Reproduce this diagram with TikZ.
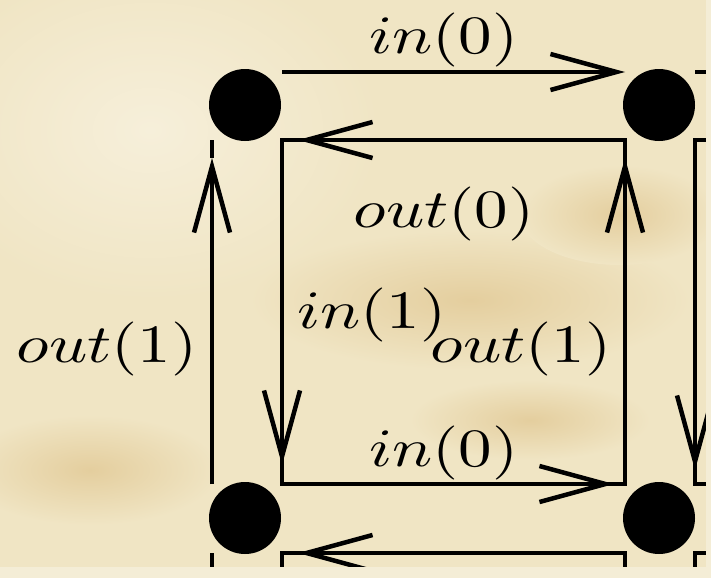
\documentclass[tikz,border=0pt]{standalone}
\usetikzlibrary{arrows.meta}
\definecolor{parch}{RGB}{240,229,196}
\definecolor{parchdark}{RGB}{228,206,158}
\definecolor{parchlight}{RGB}{246,239,218}
\definecolor{stripcol}{RGB}{244,237,214}
\begin{document}
\begin{tikzpicture}[x=1pt,y=-1pt,
  edge/.style={line width=4.5pt,line cap=butt,line join=miter},
  arr/.style={edge,-{Straight Barb[length=66pt,width=36pt,line width=4.5pt]}},
  dot/.style={circle,fill=black,minimum size=72pt,inner sep=0pt},
  lab/.style={anchor=base,inner sep=0pt}]
\useasboundingbox (0,0) rectangle (711,578);
% background
\fill[parch] (0,0) rectangle (711,578);
\shade[inner color=parchlight,outer color=parch] (150,130) ellipse [x radius=230,y radius=170];
\shade[inner color=parchdark,outer color=parch] (470,300) ellipse [x radius=220,y radius=70];
\shade[inner color=parchdark,outer color=parch] (620,215) ellipse [x radius=100,y radius=50];
\shade[inner color=parchdark,outer color=parch] (90,470) ellipse [x radius=130,y radius=55];
\shade[inner color=parchdark,outer color=parch] (530,420) ellipse [x radius=120,y radius=40];
% dots
\node[dot] (tl) at (245,105) {};
\node[dot] (tr) at (659,105) {};
\node[dot] (bl) at (245,518) {};
\node[dot] (br) at (659,518) {};
% corner coordinates
\coordinate (a) at (282,140);
\coordinate (b) at (625,140);
\coordinate (c) at (625,484);
\coordinate (d) at (282,484);
\coordinate (tA) at (282,72);
\coordinate (tB) at (625,72);
\coordinate (tC) at (695,72);
\coordinate (tD) at (706,72);
\coordinate (lA) at (212,140);
\coordinate (lB) at (212,484);
\coordinate (lC) at (212,553);
\coordinate (lD) at (212,567);
\coordinate (rA) at (695,140);
\coordinate (rB) at (695,484);
\coordinate (rA2) at (706,140);
\coordinate (rB2) at (706,484);
\coordinate (e) at (282,553);
\coordinate (f) at (625,553);
\coordinate (e2) at (282,567);
\coordinate (f2) at (625,567);
\coordinate (g) at (695,553);
\coordinate (g2) at (695,567);
\coordinate (g3) at (706,553);
% arrow tip points
\coordinate (p1) at (298,140);
\coordinate (p2) at (282,465);
\coordinate (p3) at (614,484);
\coordinate (p4) at (625,158);
\coordinate (p5) at (212,158);
\coordinate (p6) at (695,470);
\coordinate (p7) at (298,553);
% top line
\draw[arr] (tA) -- (tB);
\draw[edge] (tC) -- (tD);
% central square
\draw[arr] (b) -- (p1);
\draw[edge] (p1) -- (a) -- (p2);
\draw[arr] (a) -- (p2);
\draw[edge] (p2) -- (d) -- (p3);
\draw[arr] (d) -- (p3);
\draw[edge] (p3) -- (c) -- (p4);
\draw[arr] (c) -- (p4);
\draw[edge] (p4) -- (b) -- (p1);
% left line
\draw[arr] (lB) -- (p5);
\draw[edge] (p5) -- (lA);
\draw[edge] (lC) -- (lD);
% right line
\draw[edge] (rA2) -- (rA) -- (p6);
\draw[arr] (rA) -- (p6);
\draw[edge] (p6) -- (rB) -- (rB2);
% bottom line
\draw[arr] (f) -- (p7);
\draw[edge] (f2) -- (f) -- (p7);
\draw[edge] (p7) -- (e) -- (e2);
\draw[edge] (g2) -- (g) -- (g3);
% labels
\node[lab] (l1) at (444,53) {\scalebox{6.7}[5.4]{$in(0)$}};
\node[lab] (l2) at (444,227) {\scalebox{6.7}[5.4]{$out(0)$}};
\node[lab] (l3) at (372,328) {\scalebox{6.7}[5.4]{$in(1)$}};
\node[lab] (l4) at (521,362) {\scalebox{6.7}[5.4]{$out(1)$}};
\node[lab] (l5) at (107,362) {\scalebox{6.7}[5.4]{$out(1)$}};
\node[lab] (l6) at (444,466) {\scalebox{6.7}[5.4]{$in(0)$}};
% outer strips
\fill[stripcol] (706,0) rectangle (711,578);
\fill[stripcol] (0,567) rectangle (711,578);
\end{tikzpicture}
\end{document}
